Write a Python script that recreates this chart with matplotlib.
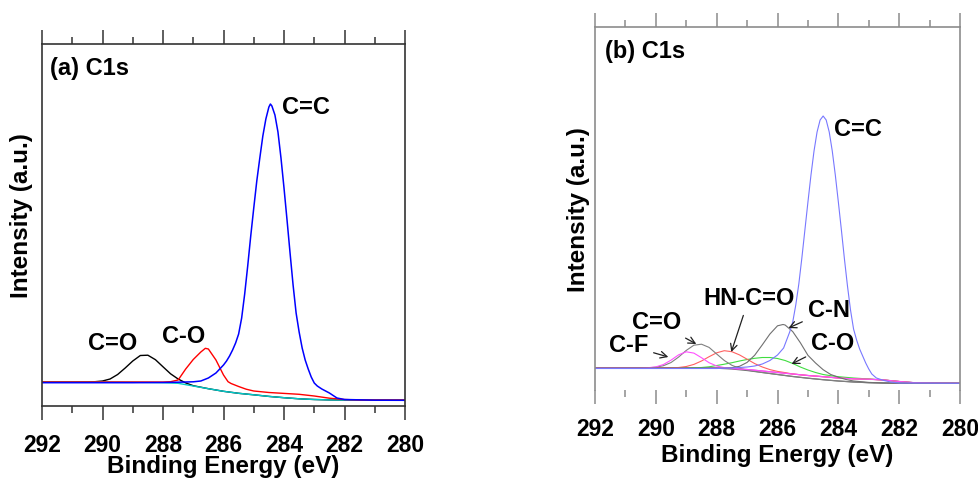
import matplotlib
matplotlib.use("Agg")
from matplotlib import pyplot as plt
from matplotlib.ticker import MultipleLocator

plt.rcParams['font.family'] = ['Liberation Sans', 'DejaVu Sans']
plt.rcParams['font.weight'] = 'bold'
plt.rcParams['axes.labelweight'] = 'bold'

# ---- panel (a): binding energy (eV) / intensity (a.u.)
a_bg_be = [292, 290, 289, 288, 287.5, 287, 286.5, 286, 285.5, 285, 284.5, 284, 283.5, 283, 282.5, 282, 280]
a_bg = [24, 24, 23.8, 23.3, 22.7, 20.0, 17.3, 14.7, 12.7, 11.2, 9.6, 8.3, 7.2, 6.5, 6.1, 6, 6]

a_co_be = [292, 291, 290.5, 290.25, 290, 289.75, 289.5, 289.25, 289, 288.75, 288.5, 288.25, 288, 287.75,
           287.5, 287.25, 287, 286.5, 286, 285.5, 285, 284.5, 284, 283.5, 283, 282.5, 282, 280]
a_co = [24, 24, 24.1, 24.3, 25, 27, 31.5, 38, 45, 50.5, 50.8, 46.3, 39.2, 32.2,
        27, 23.1, 20.3, 17.3, 14.7, 12.7, 11.2, 9.6, 8.3, 7.2, 6.5, 6.1, 6, 6]

a_cmo_be = [292, 290, 288.5, 288, 287.75, 287.5, 287.25, 287, 286.75, 286.6, 286.5, 286.25, 286, 285.85,
            285.75, 285.5, 285.25, 285, 284.5, 284, 283.5, 283, 282.5, 282, 281.5, 280]
a_cmo = [24, 24, 24, 24, 24.3, 26, 37, 46.5, 54, 57.7, 57, 46, 31, 24.3,
         22.5, 19.5, 16.8, 15, 13.5, 12.6, 11.7, 10, 7.8, 6.5, 6, 6]

a_cc_be = [292, 289, 288, 287.5, 287, 286.75, 286.5, 286.25, 286, 285.9, 285.8, 285.7, 285.6, 285.5,
           285.4, 285.3, 285.2, 285.1, 285, 284.9, 284.8, 284.7, 284.6, 284.5, 284.45, 284.4, 284.3,
           284.2, 284.1, 284, 283.9, 283.8, 283.7, 283.6, 283.5, 283.4, 283.3, 283.2, 283.1, 283,
           282.9, 282.75, 282.5, 282.25, 282, 281, 280]
a_cc = [23.3, 23.3, 23.5, 23.8, 24.2, 25, 28, 33, 41, 45, 50, 56, 63, 72,
        88, 112, 140, 170, 198, 225, 248, 270, 287, 299, 302, 300, 291,
        274, 248, 218, 186, 153, 121, 93, 74, 58, 46, 37, 29, 23,
        20, 17, 13, 8, 6.5, 5.8, 5.7]

# ---- panel (b)
b_bg_be = [292, 288.5, 288, 287.5, 287, 286.5, 286, 285.5, 285, 284.5, 284, 283.5, 283, 282.5, 282, 280]
b_bg = [22, 22, 21.8, 21, 19.5, 17.5, 15.5, 13.5, 11.8, 10.3, 9, 8, 7.3, 7, 6.8, 6.7]

b_bg2_be = [292, 288, 287.5, 287, 286.5, 286, 285.5, 285, 284.5, 284, 283.5, 283, 282.5, 282, 281.5, 281, 280]
b_bg2 = [22, 22, 21.5, 20.5, 19, 17.5, 16, 14.5, 13.3, 12, 11.2, 10.8, 10, 8.5, 7.3, 7, 6.7]

b_cf_be = [292, 290.5, 290.25, 290, 289.75, 289.5, 289.25, 289, 288.75, 288.5, 288.25, 288, 287.75, 287.5,
           287, 286.5, 286, 285.5, 285, 284.5, 284, 283.5, 283, 282.5, 282, 281.5, 281, 280]
b_cf = [22, 22, 22.3, 23.1, 25.5, 29.9, 35.2, 38.2, 36.9, 32.3, 27.3, 24, 22.4, 21.6,
        20.5, 19, 17.5, 16, 14.5, 13.3, 12, 11.2, 10.8, 10, 8.5, 7.3, 7, 6.7]

b_co_be = [292, 290.5, 290.25, 290, 289.75, 289.5, 289.25, 289, 288.75, 288.5, 288.25, 288, 287.75, 287.5,
           287.25, 287, 286.5, 286, 285.5, 285, 284.5, 284, 283.5, 283, 282.5, 282, 280]
b_co = [22, 22, 22.2, 22.8, 24.3, 27.5, 33, 39.6, 44.8, 45.8, 42.6, 36, 29.5, 24.7,
        21.7, 19.9, 17.5, 15.5, 13.5, 11.8, 10.3, 9, 8, 7.3, 7, 6.8, 6.7]

b_amide_be = [292, 289.5, 289.25, 289, 288.75, 288.5, 288.25, 288, 287.75, 287.5, 287.25, 287, 286.75, 286.5,
              286.25, 286, 285.75, 285.5, 285, 284.5, 284, 283.5, 283, 282.5, 282, 281.5, 281, 280]
b_amide = [22, 22.2, 22.5, 23.5, 25.6, 29, 33.3, 37.2, 39.3, 38.3, 35.1, 30.8, 26.4, 23,
           20.4, 18.6, 17.4, 16, 14.5, 13.3, 12, 11.2, 10.8, 10, 8.5, 7.3, 7, 6.7]

b_cmo_be = [292, 289, 288.5, 288.25, 288, 287.75, 287.5, 287.25, 287, 286.75, 286.5, 286.25, 286, 285.75,
            285.5, 285.25, 285, 284.75, 284.5, 284.25, 284, 283.5, 283, 282.5, 282, 281.5, 281, 280]
b_cmo = [22, 22, 22.5, 23.2, 24.5, 25.8, 27.3, 29, 30.5, 31.7, 32.5, 32.5, 31.5, 29.5,
         26.5, 23, 20, 17.5, 15.5, 14.3, 13.3, 12, 11, 10, 8.5, 7.3, 7, 6.7]

b_cn_be = [292, 288.5, 288, 287.75, 287.5, 287.25, 287, 286.75, 286.5, 286.25, 286, 285.82, 285.75,
           285.5, 285.25, 285, 284.75, 284.5, 284.25, 284, 283.75, 283.5, 283, 282.5, 282, 280]
b_cn = [22, 22, 21.9, 21.8, 22.3, 23.7, 27.6, 34.8, 45.2, 56, 64.2, 65.5, 65,
        58.4, 47.3, 34.7, 27, 20.3, 15.5, 12.8, 10.5, 9, 7.6, 7, 6.8, 6.7]

b_cc_be = [292, 288, 287.5, 287, 286.75, 286.5, 286.25, 286, 285.8, 285.7, 285.6, 285.5, 285.4, 285.3,
           285.2, 285.1, 285, 284.9, 284.8, 284.7, 284.6, 284.5, 284.4, 284.3, 284.2, 284.1, 284,
           283.9, 283.8, 283.7, 283.6, 283.5, 283.4, 283.3, 283.2, 283.1, 283, 282.9, 282.75,
           282.5, 282.25, 282, 280]
b_cc = [21.5, 21.5, 22, 23, 24, 26, 29.5, 35, 42, 50, 58, 68, 85, 106,
        132, 160, 188, 215, 239, 258, 270, 274, 270, 258, 239, 215, 188,
        160, 131, 104, 80, 61, 50, 41, 34, 27, 21, 16, 12,
        9.5, 7.8, 7, 6.7]

fig = plt.figure(figsize=(9.79, 4.79), dpi=100)
ax_a = fig.add_axes([0.0429, 0.1524, 0.3708, 0.7557])
ax_b = fig.add_axes([0.6078, 0.1858, 0.3728, 0.7578])


def style_axis(ax, spine_color, ytop):
    ax.set_xlim(292, 280)
    ax.set_ylim(0, ytop)
    ax.xaxis.set_major_locator(MultipleLocator(2))
    ax.xaxis.set_minor_locator(MultipleLocator(1))
    ax.set_yticks([])
    ax.tick_params(axis='x', which='both', direction='out', top=True, bottom=True,
                   labeltop=False, colors=spine_color, labelcolor='black', labelsize=16.5, pad=10)
    ax.tick_params(axis='x', which='major', length=10, width=1.1)
    ax.tick_params(axis='x', which='minor', length=5, width=1.1)
    for s in ax.spines.values():
        s.set_color(spine_color)
        s.set_linewidth(1.2)
    ax.set_xlabel("Binding Energy (eV)", fontsize=17.5)
    ax.set_ylabel("Intensity (a.u.)", fontsize=17.5)


# panel (a)
ax_a.plot(a_co_be, a_co, c="k", lw=1.0)
ax_a.plot(a_bg_be, a_bg, c="#00c8c8", lw=1.0)
ax_a.plot(a_cmo_be, a_cmo, c="r", lw=1.0)
ax_a.plot(a_cc_be, a_cc, c="b", lw=1.1)
style_axis(ax_a, "#333333", 362)
ax_a.xaxis.labelpad = -1.5
ax_a.yaxis.set_label_coords(-0.026, 0.525)
ax_a.text(0.022, 0.932, "(a) C1s", transform=ax_a.transAxes, fontsize=17, ha="left", va="center")
ax_a.text(289.66, 62.5, "C=O", fontsize=17, ha="center", va="center")
ax_a.text(287.33, 69.5, "C-O", fontsize=17, ha="center", va="center")
ax_a.text(283.26, 298.5, "C=C", fontsize=17, ha="center", va="center")

# panel (b)
ax_b.plot(b_bg_be, b_bg, c="#707070", lw=0.9)
ax_b.plot(b_bg2_be, b_bg2, c="#e040c0", lw=0.9)
ax_b.plot(b_cmo_be, b_cmo, c="#40dd40", lw=0.8)
ax_b.plot(b_amide_be, b_amide, c="#ff6060", lw=0.8)
ax_b.plot(b_co_be, b_co, c="#808080", lw=0.8)
ax_b.plot(b_cf_be, b_cf, c="#ff50ff", lw=0.8)
ax_b.plot(b_cn_be, b_cn, c="#707070", lw=0.8)
ax_b.plot(b_cc_be, b_cc, c="#7878ff", lw=0.8)
style_axis(ax_b, "#8c8c8c", 363)
ax_b.spines['bottom'].set_visible(False)
ax_b.xaxis.labelpad = 2.5
ax_b.yaxis.set_label_coords(-0.015, 0.496)
ax_b.text(0.027, 0.933, "(b) C1s", transform=ax_b.transAxes, fontsize=17, ha="left", va="center")
ax_b.text(283.36, 260.5, "C=C", fontsize=17, ha="center", va="center")

arrow = dict(arrowstyle="->", color="#202020", lw=0.9, shrinkA=2, shrinkB=0, mutation_scale=12)
ax_b.annotate("C-F", xy=(289.59, 33), xytext=(290.9, 44.5), fontsize=17,
              ha="center", va="center", arrowprops=arrow)
ax_b.annotate("C=O", xy=(288.67, 46), xytext=(289.96, 67.5), fontsize=17,
              ha="center", va="center", arrowprops=arrow)
ax_b.annotate("HN-C=O", xy=(287.52, 38), xytext=(286.94, 91.5), fontsize=17,
              ha="center", va="center", arrowprops=arrow)
ax_b.annotate("C-N", xy=(285.64, 62), xytext=(284.32, 80), fontsize=17,
              ha="center", va="center", arrowprops=arrow)
ax_b.annotate("C-O", xy=(285.54, 26), xytext=(284.19, 46.5), fontsize=17,
              ha="center", va="center", arrowprops=arrow)

fig.savefig("out.png", dpi=100)
